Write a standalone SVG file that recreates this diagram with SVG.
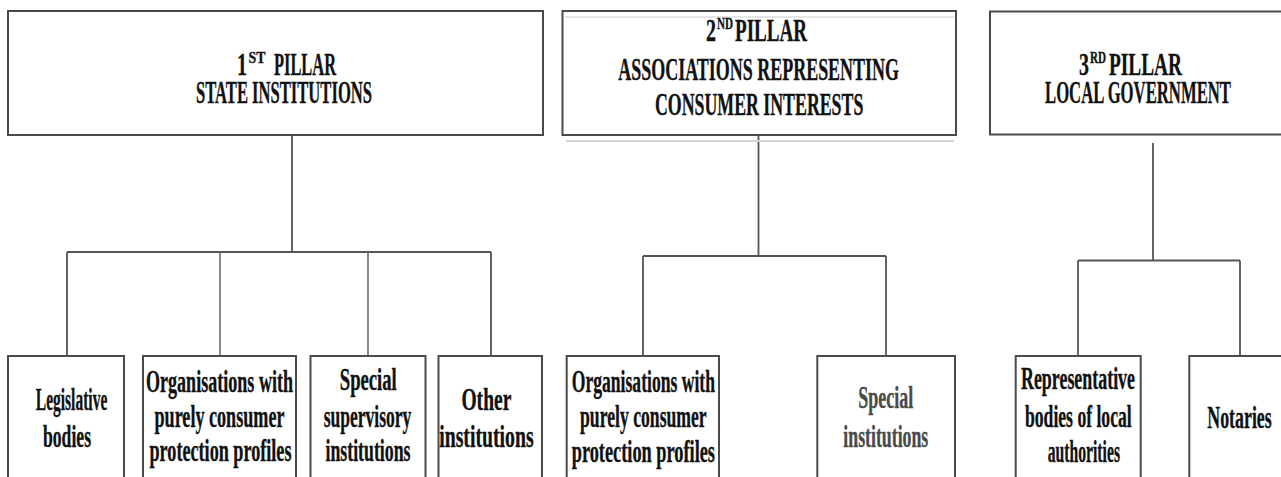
<svg xmlns="http://www.w3.org/2000/svg" width="1281" height="477" viewBox="0 0 1281 477">
  <style>
    text { font-family: "Liberation Serif", "Times New Roman", serif; font-weight: bold; fill: #111; stroke: #111; stroke-width: 0.35; }
    .head { font-size: 32px; }
    .sup { font-size: 17px; }
    .leaf { font-size: 31px; }
    .muted { fill: #4a4a4a; stroke: #4a4a4a; }
    .box { fill: #fff; stroke: #4a4a4a; stroke-width: 2; }
    .wire { fill: none; stroke: #555; stroke-width: 1.8; }
    .wire-light { fill: none; stroke: #6e6e6e; stroke-width: 1.6; }
  </style>
  <rect width="1281" height="477" fill="#fff"/>

  <!-- connectors: trunk from each pillar, a bar, then drops to the leaf boxes -->
  <g id="connectors">
    <path class="wire" d="M292,135 V252 M67,252 H491 M67,252 V356 M491,252 V356"/>
    <path class="wire-light" d="M220,252 V356 M368,252 V356"/>
    <path class="wire" d="M758.5,135 V256 M643,256 H886 M643,256 V356 M886,256 V356"/>
    <path class="wire" d="M1153,143 V260.5 M1078,260.5 H1240 M1078,260.5 V356 M1240,260.5 V356"/>
  </g>

  <!-- pillar headers -->
  <g id="pillar-1">
    <rect class="box" x="8" y="11" width="535" height="124"/>
    <text class="head" x="237" y="75" textLength="10" lengthAdjust="spacingAndGlyphs">1</text>
    <text class="sup" x="248.5" y="63" textLength="17" lengthAdjust="spacingAndGlyphs">ST</text>
    <text class="head" x="274" y="75" textLength="62" lengthAdjust="spacingAndGlyphs">PILLAR</text>
    <text class="head" x="196" y="103" textLength="176" lengthAdjust="spacingAndGlyphs">STATE INSTITUTIONS</text>
  </g>

  <g id="pillar-2">
    <line x1="566" y1="141" x2="954" y2="141" stroke="#d4d4d4" stroke-width="2"/>
    <rect class="box" x="562.5" y="11" width="393.5" height="124"/>
    <line x1="565" y1="17" x2="954" y2="17" stroke="#dcdcdc" stroke-width="1.5"/>
    <text class="head" x="706" y="41" textLength="10" lengthAdjust="spacingAndGlyphs">2</text>
    <text class="sup" x="717" y="29" textLength="16" lengthAdjust="spacingAndGlyphs">ND</text>
    <text class="head" x="735" y="41" textLength="72" lengthAdjust="spacingAndGlyphs">PILLAR</text>
    <text class="head" x="618.3" y="80" textLength="280.7" lengthAdjust="spacingAndGlyphs">ASSOCIATIONS REPRESENTING</text>
    <text class="head" x="655" y="115" textLength="208.3" lengthAdjust="spacingAndGlyphs">CONSUMER INTERESTS</text>
  </g>

  <g id="pillar-3">
    <rect class="box" x="990" y="11.5" width="320" height="123"/>
    <text class="head" x="1079" y="75" textLength="10" lengthAdjust="spacingAndGlyphs">3</text>
    <text class="sup" x="1090" y="63" textLength="16" lengthAdjust="spacingAndGlyphs">RD</text>
    <text class="head" x="1109" y="75" textLength="73" lengthAdjust="spacingAndGlyphs">PILLAR</text>
    <text class="head" x="1045" y="103" textLength="186" lengthAdjust="spacingAndGlyphs">LOCAL GOVERNMENT</text>
  </g>

  <!-- leaves of pillar 1 -->
  <g id="legislative-bodies">
    <rect class="box" x="8" y="356" width="116" height="140"/>
    <text class="leaf" x="35.8" y="410" textLength="71.5" lengthAdjust="spacingAndGlyphs">Legislative</text>
    <text class="leaf" x="43" y="446.7" textLength="48" lengthAdjust="spacingAndGlyphs">bodies</text>
  </g>
  <g id="state-consumer-organisations">
    <rect class="box" x="143" y="356" width="153" height="140"/>
    <text class="leaf" x="146" y="391.7" textLength="147" lengthAdjust="spacingAndGlyphs">Organisations with</text>
    <text class="leaf" x="154.5" y="426.7" textLength="130" lengthAdjust="spacingAndGlyphs">purely consumer</text>
    <text class="leaf" x="149.5" y="461" textLength="142" lengthAdjust="spacingAndGlyphs">protection profiles</text>
  </g>
  <g id="special-supervisory">
    <rect class="box" x="310.5" y="356" width="115" height="140"/>
    <text class="leaf" x="339.8" y="390" textLength="57" lengthAdjust="spacingAndGlyphs">Special</text>
    <text class="leaf" x="323.7" y="426.7" textLength="87.6" lengthAdjust="spacingAndGlyphs">supervisory</text>
    <text class="leaf" x="325.5" y="461" textLength="85" lengthAdjust="spacingAndGlyphs">institutions</text>
  </g>
  <g id="other-institutions">
    <rect class="box" x="438.5" y="356" width="103.5" height="140"/>
    <text class="leaf" x="461.4" y="410" textLength="50" lengthAdjust="spacingAndGlyphs">Other</text>
    <text class="leaf" x="439.2" y="446.7" textLength="94.4" lengthAdjust="spacingAndGlyphs">institutions</text>
  </g>

  <!-- leaves of pillar 2 -->
  <g id="association-consumer-organisations">
    <rect class="box" x="566.7" y="356" width="152.3" height="140"/>
    <text class="leaf" x="571.7" y="391.7" textLength="143.3" lengthAdjust="spacingAndGlyphs">Organisations with</text>
    <text class="leaf" x="580" y="426.7" textLength="126.7" lengthAdjust="spacingAndGlyphs">purely consumer</text>
    <text class="leaf" x="571.7" y="461.7" textLength="143.3" lengthAdjust="spacingAndGlyphs">protection profiles</text>
  </g>
  <g id="special-institutions">
    <rect class="box" x="817.3" y="356" width="137.7" height="140"/>
    <text class="leaf muted" x="858.3" y="408.3" textLength="55" lengthAdjust="spacingAndGlyphs">Special</text>
    <text class="leaf muted" x="843.3" y="446.7" textLength="85" lengthAdjust="spacingAndGlyphs">institutions</text>
  </g>

  <!-- leaves of pillar 3 -->
  <g id="local-authority-bodies">
    <rect class="box" x="1015.7" y="356" width="125" height="140"/>
    <text class="leaf" x="1021" y="389.3" textLength="114" lengthAdjust="spacingAndGlyphs">Representative</text>
    <text class="leaf" x="1025" y="426.7" textLength="106.7" lengthAdjust="spacingAndGlyphs">bodies of local</text>
    <text class="leaf" x="1047.7" y="461.7" textLength="72.3" lengthAdjust="spacingAndGlyphs">authorities</text>
  </g>
  <g id="notaries">
    <rect class="box" x="1189.3" y="356" width="120" height="140"/>
    <text class="leaf" x="1207.3" y="428.3" textLength="64.4" lengthAdjust="spacingAndGlyphs">Notaries</text>
  </g>
</svg>
